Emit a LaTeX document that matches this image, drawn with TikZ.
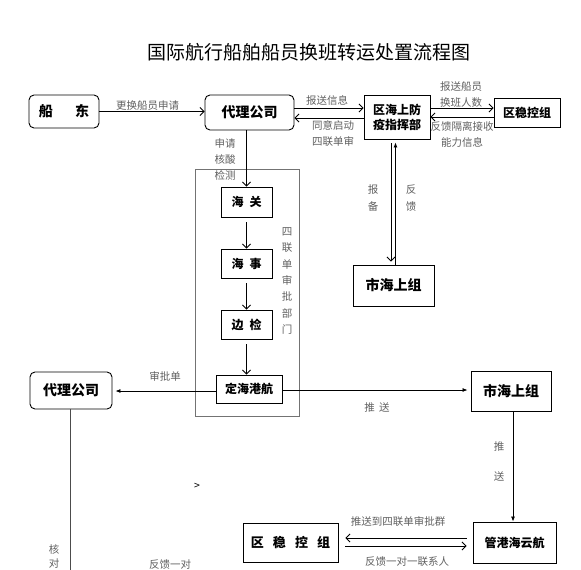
\documentclass[tikz,border=0pt]{standalone}
\usepackage{fontspec}
\setmainfont{Noto Sans CJK SC}
\usetikzlibrary{arrows.meta,calc}
\tikzset{
    flow box/.style={draw, line width=0.9pt, inner sep=0pt, align=center,
        font=\fontsize{14}{17}\selectfont\bfseries},
    round box/.style={flow box, rounded corners=5pt},
    small box/.style={flow box, font=\fontsize{12}{15}\selectfont\bfseries},
    note/.style={inner sep=0pt, text=black!62, align=center,
        font=\fontsize{10.5}{16}\selectfont},
    open arrow/.style={draw, line width=0.8pt, -{Straight Barb[length=4pt,width=8pt]}},
    solid arrow/.style={draw, line width=0.8pt, -{Latex[length=5pt,width=4pt]}}
}
\begin{document}
\begin{tikzpicture}[x=1pt, y=-1pt]
    \path[fill=white, use as bounding box] (0,0) rectangle (581,570);
    \node[font=\fontsize{19}{22}\selectfont] (title) at (309,52) {国际航行船舶船员换班转运处置流程图};

    % top row
    \node[round box, minimum width=70pt, minimum height=33pt] (owner) at (64,111.5) {船\hspace{1.6em}东};
    \node[round box, minimum width=89pt, minimum height=35pt] (agent) at (249.5,112.5) {代理公司};
    \node[small box, minimum width=66pt, minimum height=44pt] (hq) at (397,117) {区海上防\\疫指挥部};
    \node[small box, minimum width=66pt, minimum height=29pt] (stable) at (527,112.5) {区稳控组};
    \node[flow box, minimum width=81pt, minimum height=41pt] (city) at (393.5,285.5) {市海上组};

    % four-form approval departments
    \node[draw=black!55, line width=0.8pt, minimum width=104pt, minimum height=247pt] (dept) at (247,292.5) {};
    \node[small box, minimum width=51pt, minimum height=30pt] (customs) at (246.5,202) {海\hspace{0.5em}关};
    \node[small box, minimum width=51pt, minimum height=29pt] (msa) at (246.5,263.5) {海\hspace{0.5em}事};
    \node[small box, minimum width=51pt, minimum height=29pt] (border) at (246.5,324.5) {边\hspace{0.5em}检};
    \node[small box, minimum width=66pt, minimum height=28pt] (port) at (249,389) {定海港航};
    \node[note, font=\fontsize{10.5}{16.3}\selectfont] (deptname) at (287,281) {四\\联\\单\\审\\批\\部\\门};

    % lower part
    \node[round box, minimum width=82pt, minimum height=37pt] (agent2) at (71,390.5) {代理公司};
    \node[flow box, minimum width=80pt, minimum height=40pt] (city2) at (511,391) {市海上组};
    \node[flow box, font=\fontsize{13}{16}\selectfont\bfseries, minimum width=95pt, minimum height=39pt] (stable2) at (290.5,542.5) {区\hspace{0.7em}稳\hspace{0.7em}控\hspace{0.7em}组};
    \node[small box, minimum width=83pt, minimum height=41pt] (control) at (514.5,542.5) {管港海云航};
    \coordinate (check) at (70,572);

    % connectors
    \draw[open arrow] (owner.east) -- (owner.east -| agent.west);
    \draw[open arrow] ([yshift=4.5pt]agent.east) -- ([yshift=4.5pt]agent.east -| hq.west);
    \draw[open arrow] ([yshift=-5.5pt]agent.east -| hq.west) -- ([yshift=-5.5pt]agent.east);
    \draw[open arrow] ([yshift=4.5pt]stable.west -| hq.east) -- ([yshift=4.5pt]stable.west);
    \draw[open arrow] ([yshift=-4.5pt]stable.west) -- ([yshift=-4.5pt]stable.west -| hq.east);
    \draw[open arrow, shorten <=4pt, shorten >=3pt] ([xshift=-6pt]hq.south) -- ([xshift=-6pt]hq.south |- city.north);
    \draw[solid arrow, shorten >=3pt] ([xshift=2pt]city.north) -- ([xshift=2pt]city.north |- hq.south);
    \draw[open arrow] (customs.north |- agent.south) -- (customs.north);
    \draw[open arrow, shorten <=5pt] (customs.south) -- (msa.north);
    \draw[open arrow, shorten <=5pt] (msa.south) -- (border.north);
    \draw[open arrow, shorten <=5pt] (border.south) -- (border.south |- port.north);
    \draw[solid arrow, shorten >=3pt] ([yshift=-2pt]port.west) -- ([yshift=-2pt]port.west -| agent2.east);
    \draw[solid arrow, shorten >=3pt] ([yshift=-1pt]port.east) -- ([yshift=-1pt]port.east -| city2.west);
    \draw[solid arrow] ([xshift=2pt]city2.south) -- ([xshift=2pt]city2.south |- control.north);
    \draw[open arrow, shorten <=6pt, shorten >=7pt] ([yshift=4.5pt]control.west) -- ([yshift=4.5pt]control.west -| stable2.east);
    \draw[open arrow, shorten <=7pt, shorten >=6pt] ([yshift=-3.5pt]stable2.east) -- ([yshift=-3.5pt]stable2.east -| control.west);
    \draw[line width=0.8pt, black!70] (agent2.south -| check) -- (check);

    % labels
    \node[note] (l1) at (147.5,106) {更换船员申请};
    \node[note] (l2) at (327,100) {报送信息};
    \node[note] (l3) at (333,134) {同意启动\\四联单审};
    \node[note] (l4) at (461,94.5) {报送船员\\换班人数};
    \node[note] (l5) at (462,134) {反馈隔离接收\\能力信息};
    \node[note] (l6) at (225,159.5) {申请\\核酸\\检测};
    \node[note, font=\fontsize{10.5}{17}\selectfont] (l7) at (373,198.5) {报\\备};
    \node[note, font=\fontsize{10.5}{17}\selectfont] (l8) at (411,198.5) {反\\馈};
    \node[note] (l9) at (165,376) {审批单};
    \node[note] (l10) at (377,408) {推\hspace{0.4em}送};
    \node[note] (l11) at (499,447) {推};
    \node[note] (l12) at (499,477) {送};
    \node[note] (l13) at (398,522) {推送到四联单审批群};
    \node[note] (l14) at (407,562) {反馈一对一联系人};
    \node[note, font=\fontsize{10.5}{14}\selectfont] (l15) at (54,556) {核\\对};
    \node[note] (l16) at (170,565) {反馈一对};
    \node[note, text=black] (l17) at (197,486) {>};
\end{tikzpicture}
\end{document}
